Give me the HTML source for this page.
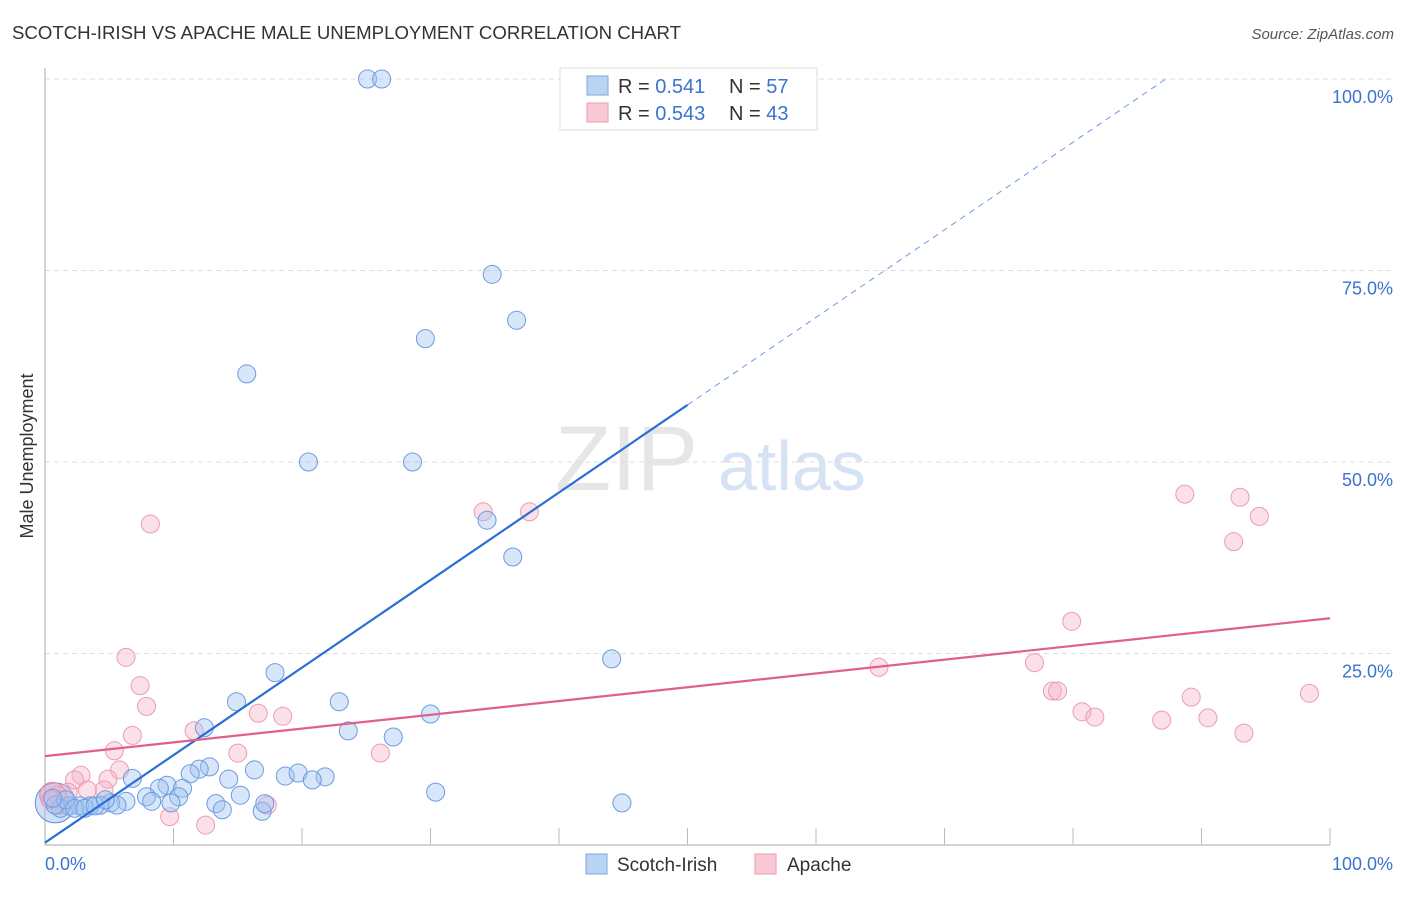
<!DOCTYPE html>
<html><head><meta charset="utf-8"><style>
body{margin:0;background:#fff;font-family:"Liberation Sans",sans-serif;}
svg text{font-family:"Liberation Sans",sans-serif;}
</style></head><body>
<svg id="chart" width="1406" height="892" xmlns="http://www.w3.org/2000/svg">
<text x="12" y="39" font-size="18" fill="#333" textLength="669" lengthAdjust="spacingAndGlyphs">SCOTCH-IRISH VS APACHE MALE UNEMPLOYMENT CORRELATION CHART</text>
<text x="1394" y="39" font-size="15" fill="#555" text-anchor="end" font-style="italic">Source: ZipAtlas.com</text>
<text x="555" y="490" font-size="92" fill="#e6e6e6" font-family="Liberation Serif">ZIP</text>
<text x="718" y="490" font-size="70" fill="#d5e3f5">atlas</text>
<text transform="translate(33,456) rotate(-90)" font-size="18" fill="#333" text-anchor="middle">Male Unemployment</text>
<g id="grid"></g>
<g id="marks"></g>
<g>
<rect x="560" y="68" width="257" height="62" fill="#fff" stroke="#ddd"/>
<rect x="587" y="76" width="21" height="19" fill="#b9d3f3" stroke="#7aa7e0"/>
<rect x="587" y="103" width="21" height="19" fill="#f9c9d6" stroke="#ec9ab2"/>
<text x="618" y="93" font-size="20" fill="#333">R = <tspan fill="#3a73d0">0.541</tspan></text>
<text x="729" y="93" font-size="20" fill="#333">N = <tspan fill="#3a73d0">57</tspan></text>
<text x="618" y="120" font-size="20" fill="#333">R = <tspan fill="#3a73d0">0.543</tspan></text>
<text x="729" y="120" font-size="20" fill="#333">N = <tspan fill="#3a73d0">43</tspan></text>
</g>
<g>
<rect x="586" y="854" width="21" height="20" fill="#b9d3f3" stroke="#7aa7e0"/>
<text x="617" y="871" font-size="19" fill="#333">Scotch-Irish</text>
<rect x="755" y="854" width="21" height="20" fill="#f9c9d6" stroke="#ec9ab2"/>
<text x="787" y="871" font-size="19" fill="#333">Apache</text>
</g>
</svg>
<script>
const yTicks=[25,50,75,100];
const yTickLabels=["25.0%","50.0%","75.0%","100.0%"];
const blueX=[25.1,26.2,34.8,36.7,29.6,15.7,20.5,28.6,34.4,36.4,44.1,17.9,14.9,22.9,30.0,12.4,23.6,27.1,12.8,12.0,11.3,16.3,18.7,19.7,21.8,20.8,14.3,6.8,9.5,10.7,8.9,30.4,15.2,7.9,10.4,8.3,9.8,13.3,44.9,13.8,16.9,17.1,6.3,5.1,4.3,3.5,2.7,1.9,1.2,0.8,1.6,0.6,2.3,3.1,3.9,5.6,4.7];
const blueY=[100,100,74.5,68.5,66.1,61.5,50.0,50.0,42.4,37.6,24.3,22.5,18.7,18.7,17.1,15.3,14.9,14.1,10.2,9.9,9.3,9.8,9.0,9.4,8.9,8.5,8.6,8.7,7.8,7.4,7.4,6.9,6.5,6.3,6.3,5.7,5.5,5.4,5.5,4.6,4.4,5.4,5.7,5.5,5.2,5.1,5.1,5.1,4.8,5.2,5.9,6.1,4.8,4.8,5.1,5.2,5.9];
const pinkX=[8.2,6.3,7.4,7.9,6.8,5.4,2.8,2.3,5.8,4.9,4.6,3.3,1.8,1.0,0.5,1.3,11.6,16.6,18.5,15.0,26.1,9.7,12.5,17.3,34.1,37.7,88.7,93.0,94.5,92.5,79.9,64.9,77.0,78.4,78.8,80.7,81.7,86.9,89.2,90.5,93.3,98.4,0.4];
const pinkY=[41.9,24.5,20.8,18.1,14.3,12.3,9.1,8.5,9.8,8.6,7.2,7.2,6.9,6.5,5.9,5.2,14.9,17.2,16.8,12.0,12.0,3.7,2.6,5.2,43.5,43.5,45.8,45.4,42.9,39.6,29.2,23.2,23.8,20.1,20.1,17.4,16.7,16.3,19.3,16.6,14.6,19.8,5.9];
const blueTrend=[0,0.3,1.143];
const pinkTrend=[11.6,29.6];
const NS="http://www.w3.org/2000/svg";
const X=v=>45+v*12.85, Y=v=>845-v*7.66;
function mk(tag,attrs,parent){const e=document.createElementNS(NS,tag);for(const k in attrs)e.setAttribute(k,attrs[k]);parent.appendChild(e);return e;}
const grid=document.getElementById('grid'), marks=document.getElementById('marks');
yTicks.forEach((t,i)=>{
  const l=mk('line',{x1:45,x2:1393,y1:Y(t),y2:Y(t),stroke:'#ddd','stroke-dasharray':'5,4'},grid);
  
  
  const tx=mk('text',{x:1393,y:Y(t)+24,'font-size':18,fill:'#3a73d0','text-anchor':'end'},grid);
  tx.textContent=yTickLabels[i];
  
  
});
const ax=mk('path',{d:'M45,68 V845 H1330',stroke:'#aaa',fill:'none'},grid);


for(let i=1;i<=10;i++){const t=mk('line',{x1:X(i*10),x2:X(i*10),y1:828,y2:845,stroke:'#bbb'},grid);
  
  }
const x0=mk('text',{x:45,y:870,'font-size':18,fill:'#3a73d0'},grid);x0.textContent='0.0%';


const x1=mk('text',{x:1393,y:870,'font-size':18,fill:'#3a73d0','text-anchor':'end'},grid);x1.textContent='100.0%';


const bb=mk('circle',{cx:X(0.8),cy:Y(5.5),r:20,fill:'rgba(150,185,235,0.45)',stroke:'#5d8fd8'},marks);


const pb=mk('circle',{cx:X(0.6),cy:Y(6.5),r:13,fill:'rgba(240,160,185,0.5)',stroke:'#e48aa6'},marks);


pinkX.forEach((v,i)=>{const c=mk('circle',{cx:X(v),cy:Y(pinkY[i]),r:9,fill:'rgba(246,180,200,0.42)',stroke:'#ea9cb5','stroke-width':1},marks);
  
  });
blueX.forEach((v,i)=>{const c=mk('circle',{cx:X(v),cy:Y(blueY[i]),r:9,fill:'rgba(160,195,240,0.42)',stroke:'#6d9be0','stroke-width':1},marks);
  
  });
const bf=v=>blueTrend[1]+blueTrend[2]*v;
const xEnd=(100-blueTrend[1])/blueTrend[2];
const bl=mk('line',{x1:X(0),y1:Y(bf(0)),x2:X(50),y2:Y(bf(50)),stroke:'#2a6fd6','stroke-width':2.2},marks);


const bd=mk('line',{x1:X(50),y1:Y(bf(50)),x2:X(xEnd),y2:Y(100),stroke:'#6d9be0','stroke-width':1,'stroke-dasharray':'6,5'},marks);


const pl=mk('line',{x1:X(0),y1:Y(pinkTrend[0]),x2:X(100),y2:Y(pinkTrend[1]),stroke:'#e0608a','stroke-width':2.2},marks);


</script>
</body></html>
